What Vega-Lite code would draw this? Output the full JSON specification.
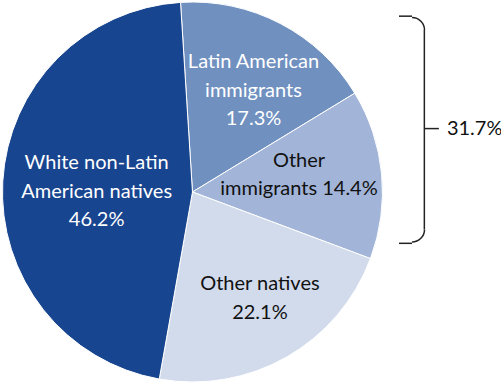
{
  "$schema": "https://vega.github.io/schema/vega-lite/v6.json",
  "width": 501,
  "height": 385,
  "padding": 0,
  "autosize": {"type": "none"},
  "background": "white",
  "config": {"view": {"stroke": null}, "font": "Lato"},
  "data": {
    "values": [
      {"cat": "Latin American immigrants", "label": "Latin American\nimmigrants\n17.3%", "share": 17.3, "rank": 1, "group": "immigrant"},
      {"cat": "Other immigrants", "label": "Other\nimmigrants 14.4%", "share": 14.4, "rank": 2, "group": "immigrant"},
      {"cat": "Other natives", "label": "Other natives\n22.1%", "share": 22.1, "rank": 3, "group": "native"},
      {"cat": "White non-Latin American natives", "label": "White non-Latin\nAmerican natives\n46.2%", "share": 46.2, "rank": 4, "group": "native"}
    ]
  },
  "layer": [
    {
      "mark": {"type": "arc", "outerRadius": 190, "stroke": "white", "strokeWidth": 1},
      "encoding": {
        "theta": {"field": "share", "type": "quantitative", "stack": true, "scale": {"range": [-0.063, 6.2202]}},
        "order": {"field": "rank", "type": "quantitative"},
        "color": {
          "field": "cat", "type": "nominal", "legend": null,
          "scale": {
            "domain": ["Latin American immigrants", "Other immigrants", "Other natives", "White non-Latin American natives"],
            "range": ["#7090c0", "#a2b5d8", "#d2dbec", "#18458f"]
          }
        },
        "x": {"datum": 38.42, "type": "quantitative", "scale": {"domain": [0, 100], "nice": false, "zero": false}, "axis": null},
        "y": {"datum": 49.87, "type": "quantitative", "scale": {"domain": [0, 100], "nice": false, "zero": false, "reverse": true}, "axis": null}
      }
    },
    {
      "mark": {
        "type": "text", "fontSize": 20, "lineHeight": 28.5, "lineBreak": "\n", "align": "center", "baseline": "middle",
        "radius": {"expr": "datum.cat === 'White non-Latin American natives' ? 96 : datum.cat === 'Latin American immigrants' ? 119 : datum.cat === 'Other immigrants' ? 109 : 128"},
        "dx": {"expr": "datum.cat === 'White non-Latin American natives' ? 0 : datum.cat === 'Latin American immigrants' ? 6 : datum.cat === 'Other immigrants' ? -2 : 4"},
        "dy": {"expr": "datum.cat === 'White non-Latin American natives' ? -23.5 : datum.cat === 'Latin American immigrants' ? -24 : datum.cat === 'Other immigrants' ? -21 : -19"}
      },
      "encoding": {
        "theta": {"field": "share", "type": "quantitative", "stack": true},
        "order": {"field": "rank", "type": "quantitative"},
        "text": {"field": "label", "type": "nominal"},
        "color": {"condition": {"test": "datum.rank === 2 || datum.rank === 3", "value": "#111111"}, "value": "white"},
        "x": {"datum": 38.42, "type": "quantitative"},
        "y": {"datum": 49.87, "type": "quantitative"}
      }
    },
    {
      "data": {"values": [{}]},
      "mark": {"type": "rule", "color": "#222222", "strokeWidth": 1.5},
      "encoding": {
        "x": {"datum": 79.64, "type": "quantitative"},
        "x2": {"datum": 82.24},
        "y": {"datum": 4.2, "type": "quantitative"}
      }
    },
    {
      "data": {"values": [{}]},
      "mark": {"type": "rule", "color": "#222222", "strokeWidth": 1.5},
      "encoding": {
        "x": {"datum": 79.64, "type": "quantitative"},
        "x2": {"datum": 82.24},
        "y": {"datum": 63.2, "type": "quantitative"}
      }
    },
    {
      "data": {"values": [{}]},
      "mark": {"type": "rule", "color": "#222222", "strokeWidth": 1.5},
      "encoding": {
        "x": {"datum": 84.7, "type": "quantitative"},
        "y": {"datum": 7.8, "type": "quantitative"},
        "y2": {"datum": 59.6}
      }
    },
    {
      "data": {"values": [{}]},
      "mark": {"type": "rule", "color": "#222222", "strokeWidth": 1.5},
      "encoding": {
        "x": {"datum": 84.7, "type": "quantitative"},
        "x2": {"datum": 87.6},
        "y": {"datum": 33.4, "type": "quantitative"}
      }
    },
    {
      "data": {"values": [{}]},
      "mark": {"type": "arc", "filled": false, "color": "#222222", "strokeWidth": 1.5, "radius": 12.5, "radius2": 12.5, "theta": 0, "theta2": 1.5708},
      "encoding": {
        "x": {"datum": 82.24, "type": "quantitative"},
        "y": {"datum": 7.8, "type": "quantitative"}
      }
    },
    {
      "data": {"values": [{}]},
      "mark": {"type": "arc", "filled": false, "color": "#222222", "strokeWidth": 1.5, "radius": 12.5, "radius2": 12.5, "theta": 1.5708, "theta2": 3.1416},
      "encoding": {
        "x": {"datum": 82.24, "type": "quantitative"},
        "y": {"datum": 59.6, "type": "quantitative"}
      }
    },
    {
      "transform": [
        {"filter": "datum.group === 'immigrant'"},
        {"aggregate": [{"op": "sum", "field": "share", "as": "total"}]},
        {"calculate": "format(datum.total, '.1f') + '%'", "as": "totalLabel"}
      ],
      "mark": {"type": "text", "fontSize": 20, "align": "left", "baseline": "middle", "color": "#111111"},
      "encoding": {
        "text": {"field": "totalLabel", "type": "nominal"},
        "x": {"datum": 89.2, "type": "quantitative"},
        "y": {"datum": 33.4, "type": "quantitative"}
      }
    }
  ]
}
